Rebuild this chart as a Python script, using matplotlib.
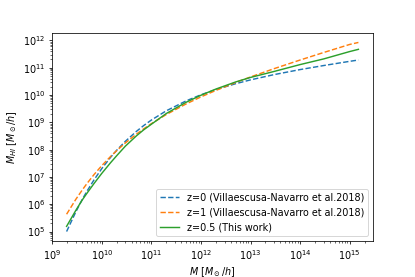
import numpy as np
import matplotlib
matplotlib.use("Agg")
import matplotlib.pyplot as plt

# halo mass grid [M_sun/h]
halo_mass = [1.95e9, 3e9, 4e9, 5e9, 7e9, 1e10, 1.5e10, 2e10, 3e10, 5e10, 7e10,
             1e11, 2e11, 5e11, 1e12, 2e12, 5e12, 1e13, 3e13, 1e14, 3e14,
             1e15, 1.5e15]

# HI mass, z=0 (Villaescusa-Navarro et al. 2018)
mhi_z0 = [1.0e5, 5.3e5, 1.45e6, 2.97e6, 7.9e6, 2.02e7, 5.2e7, 9.5e7, 2.03e8,
          4.67e8, 7.6e8, 1.21e9, 2.64e9, 6.07e9, 1.02e10, 1.58e10, 2.59e10,
          3.58e10, 5.59e10, 8.53e10, 1.20e11, 1.71e11, 1.91e11]

# HI mass, z=1 (Villaescusa-Navarro et al. 2018)
mhi_z1 = [4.3e5, 1.52e6, 3.25e6, 5.68e6, 1.23e7, 2.59e7, 5.58e7, 9.2e7, 1.77e8,
          3.69e8, 5.76e8, 8.93e8, 1.93e9, 4.69e9, 8.52e9, 1.47e10, 2.87e10,
          4.58e10, 9.25e10, 1.91e11, 3.61e11, 7.10e11, 8.4e11]

# HI mass, z=0.5 (this work)
mhi_z05 = [1.55e5, 6.0e5, 1.4e6, 2.5e6, 5.8e6, 1.35e7, 3.3e7, 6.0e7, 1.35e8,
           3.2e8, 5.3e8, 8.5e8, 2.1e9, 5.4e9, 9.8e9, 1.65e10, 3.0e10,
           4.4e10, 7.3e10, 1.3e11, 2.1e11, 3.9e11, 4.7e11]

labels = ["z=0 (Villaescusa-Navarro et al.2018)",
          "z=1 (Villaescusa-Navarro et al.2018)",
          "z=0.5 (This work)"]

dpi = 69.2
fig, ax = plt.subplots(figsize=(415 / dpi, 277 / dpi), dpi=dpi)
fig.subplots_adjust(left=52 / 415, right=373 / 415, top=1 - 33 / 277, bottom=1 - 241 / 277)

colors = plt.get_cmap("tab10").colors

ax.plot(halo_mass, mhi_z0, "--", color=colors[0], label=labels[0])
ax.plot(halo_mass, mhi_z1, "--", color=colors[1], label=labels[1])
ax.plot(halo_mass, mhi_z05, "-", color=colors[2], label=labels[2])

ax.set_xscale("log")
ax.set_yscale("log")
ax.set_xlabel(r"$M\ [M_\odot/h]$")
ax.set_ylabel(r"$M_{HI}\ [M_\odot/h]$")
ax.legend(loc="lower right")

fig.savefig("out.png", dpi=dpi)
